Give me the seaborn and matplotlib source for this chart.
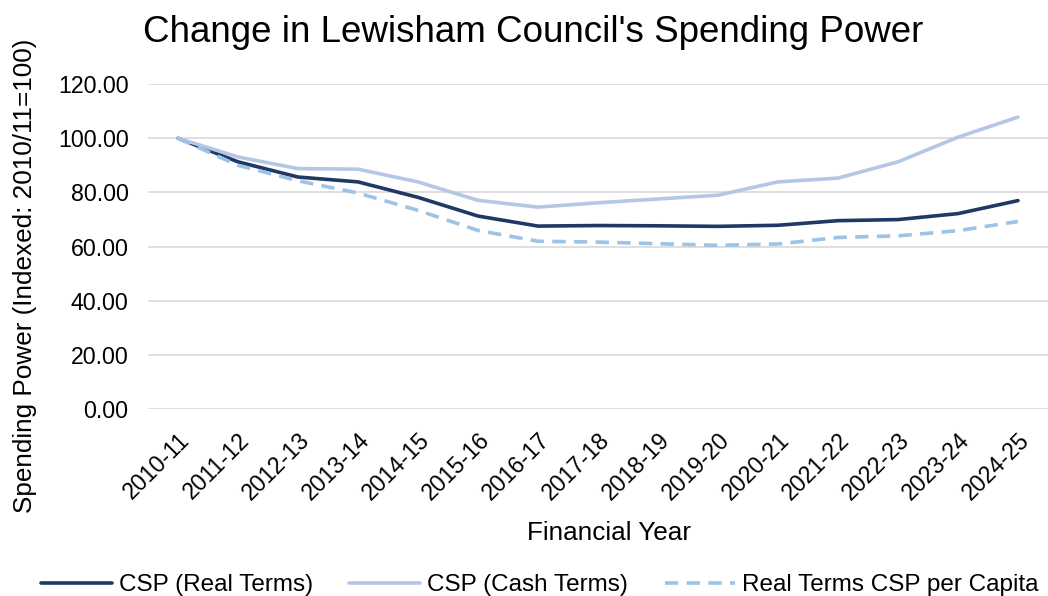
import pandas as pd
import numpy as np
import matplotlib
matplotlib.use("Agg")
import matplotlib.pyplot as plt
import seaborn as sns

years = ["2010-11", "2011-12", "2012-13", "2013-14", "2014-15", "2015-16", "2016-17",
         "2017-18", "2018-19", "2019-20", "2020-21", "2021-22", "2022-23", "2023-24", "2024-25"]
real_terms = [100.0, 91.3, 85.7, 83.9, 78.2, 71.3, 67.6, 67.8, 67.7, 67.5, 67.9, 69.6, 70.0, 72.2, 77.0]
cash_terms = [100.0, 93.1, 88.8, 88.6, 83.9, 77.1, 74.6, 76.2, 77.6, 79.0, 83.9, 85.3, 91.3, 100.4, 107.8]
per_capita = [100.0, 90.0, 84.3, 79.8, 73.4, 66.0, 62.0, 61.7, 61.1, 60.5, 61.0, 63.4, 64.0, 65.9, 69.3]

series_names = ["CSP (Real Terms)", "CSP (Cash Terms)", "Real Terms CSP per Capita"]
colours = {"CSP (Real Terms)": "#1F3864", "CSP (Cash Terms)": "#B4C7E7",
           "Real Terms CSP per Capita": "#9DC3E6"}
dash_styles = {"CSP (Real Terms)": "", "CSP (Cash Terms)": "", "Real Terms CSP per Capita": (3.7, 2.3)}

df = pd.DataFrame({"Financial Year": years * 3,
                   "value": real_terms + cash_terms + per_capita,
                   "series": np.repeat(series_names, len(years))})
df["x"] = df.groupby("series").cumcount()

sns.set_style("white")
plt.rcParams["font.family"] = ["Liberation Sans", "DejaVu Sans"]
plt.rcParams["text.color"] = "black"
plt.rcParams["axes.labelcolor"] = "black"
plt.rcParams["xtick.color"] = "black"
plt.rcParams["ytick.color"] = "black"

fig = plt.figure(figsize=(10.48, 5.96), dpi=100)
ax = fig.add_axes([0.1412, 0.3132, 0.8588, 0.5458])

sns.lineplot(data=df, x="x", y="value", hue="series", style="series",
             palette=colours, dashes=dash_styles, hue_order=series_names,
             style_order=series_names, linewidth=2.6, ax=ax, legend=False, sort=False)

ax.set_xlim(-0.5, len(years) - 0.5)
ax.set_ylim(0, 120)
ax.set_yticks(np.arange(0, 121, 20))
ax.set_yticklabels([f"{v:.2f}" for v in np.arange(0, 121, 20)], fontsize=16.7)
ax.set_xticks(range(len(years)))
ax.set_xticklabels(years, rotation=45, ha="right", rotation_mode="anchor", fontsize=16.7)
ax.tick_params(axis="y", length=0, pad=14)
ax.tick_params(axis="x", length=0, pad=14)
ax.grid(axis="y", color="#D9D9D9", linewidth=1.2)
ax.set_axisbelow(True)
for s in ax.spines.values():
    s.set_visible(False)

ax.set_xlabel("Financial Year", fontsize=18.8)
ax.set_ylabel("Spending Power (Indexed: 2010/11=100)", fontsize=18.8)
# label positions in pixels converted to axes fractions
ax.xaxis.set_label_coords((609 - 148) / 900, -(521 - 409.3) / 325.3)
ax.yaxis.set_label_coords(-(148 - 37) / 900, (409.3 - 276) / 325.3)
fig.text(533 / 1048, 1 - 33 / 596, "Change in Lewisham Council's Spending Power",
         ha="center", va="center", fontsize=26.5)

handles = [plt.Line2D([], [], color=colours[n], linewidth=2.6,
                      linestyle=(0, dash_styles[n]) if dash_styles[n] else "-") for n in series_names]
fig.legend(handles, series_names, loc="center", bbox_to_anchor=(540 / 1048, 1 - 585 / 596), ncol=3,
           frameon=False, fontsize=17.5, handlelength=2.9, columnspacing=1.5, handletextpad=0.3,
           borderpad=0, borderaxespad=0)

fig.savefig("out.png", dpi=100)
